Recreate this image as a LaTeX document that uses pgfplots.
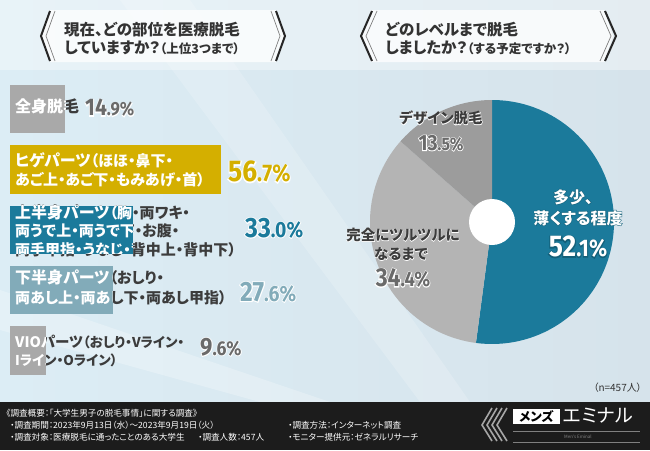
\documentclass[border=0pt]{standalone}
\usepackage{fontspec}
\usepackage{pgfplots}
\pgfplotsset{compat=1.18}
\setmainfont{Noto Sans CJK JP}[RawFeature={+palt}]
\newfontfamily\jph{Noto Sans CJK JP}[RawFeature={+palt}, BoldFeatures={FakeBold=5}]
\newfontfamily\numf{Fira Sans}[FakeStretch=0.88]
\newfontfamily\numh{Fira Sans}[FakeStretch=0.88, BoldFeatures={FakeBold=7}]
\definecolor{bgA}{HTML}{DCEDF5}
\definecolor{bgB}{HTML}{D6E3EB}
\definecolor{barg}{HTML}{A9A9A9}
\definecolor{gold}{HTML}{D4AF00}
\definecolor{tealA}{HTML}{1B7A9B}
\definecolor{tealB}{HTML}{82ABB9}
\definecolor{pieA}{HTML}{B4B4B4}
\definecolor{pieB}{HTML}{9C9C9C}
\definecolor{txt}{HTML}{333333}
\definecolor{dtxt}{HTML}{3C3C3C}
\definecolor{grayn}{HTML}{6A6A6A}
\definecolor{foot}{HTML}{1C1C1C}
\definecolor{tealD}{HTML}{135F78}
\newcommand\dk[1]{\textcolor{dtxt}{#1}}
\newcommand\wt[1]{\textcolor{white}{#1}}
\newcommand\mz{\fontsize{16}{16}\selectfont\bfseries}
\newcommand\pz{\fontsize{15}{15}\selectfont\bfseries}
\newcommand\vm{\fontsize{14.5}{14.5}\selectfont\bfseries}
\newcommand\vz{\fontsize{13.5}{13.5}\selectfont\bfseries}
\newcommand\LabA[1]{\node[lab] at (15,106) {#1{\mz 全身脱毛}};}
\newcommand\LabB[1]{\node[lab] at (15,160) {#1{{\mz ヒゲパーツ}{\pz（ほほ・鼻下・}}};
  \node[lab] at (15,180) {#1{\pz あご上・あご下・もみあげ・首）}};}
\newcommand\LabC[1]{\node[lab] at (15,212) {#1{{\mz 上半身パーツ}{\pz（胸・両ワキ・}}};
  \node[lab] at (15,231) {#1{\pz 両うで上・両うで下・お腹・}};
  \node[lab] at (15,250) {#1{\pz 両手甲指・うなじ・背中上・背中下）}};}
\newcommand\LabD[1]{\node[lab] at (15,277) {#1{{\mz 下半身パーツ}{\pz（おしり・}}};
  \node[lab] at (15,298) {#1{\pz 両あし上・両あし下・両あし甲指）}};}
\newcommand\LabE[1]{\node[lab] at (15,342) {#1{{\vm VIOパーツ}{\vz（おしり・Vライン・}}};
  \node[lab] at (15,360) {#1{\vz Iライン・Oライン）}};}
% number with halo: int, dec, size1, size2, halo colour, text colour
\newcommand\hpct[6]{\makebox[0pt][l]{\textcolor{#5}{\numh\bfseries{\fontsize{#3}{#3}\selectfont #1}{\fontsize{#4}{#4}\selectfont #2}}}%
  \textcolor{#6}{\numf\bfseries{\fontsize{#3}{#3}\selectfont #1}{\fontsize{#4}{#4}\selectfont #2}}}
% Japanese text with halo: halo colour, text colour, text
\newcommand\hjp[3]{\makebox[0pt][l]{\textcolor{#1}{\jph\bfseries #3}}\textcolor{#2}{#3}}
\begin{document}
\begin{tikzpicture}[x=1pt,y=-1pt,
  lab/.style={anchor=west,inner sep=0pt},
  pc/.style={anchor=west,inner sep=0pt},
  pl/.style={inner sep=0pt,font=\fontsize{14.5}{14.5}\selectfont\bfseries}]
\useasboundingbox (0,0) rectangle (650,450);
% background
\shade[left color=bgA, right color=bgB] (0,0) rectangle (650,402);
\fill[white,opacity=0.25] (0,330) -- (260,402) -- (330,402) -- (0,290) -- cycle;
\fill[white,opacity=0.18] (120,0) -- (420,402) -- (470,402) -- (190,0) -- cycle;
\fill[white,opacity=0.35] (0,0) rectangle (650,70);
\fill[foot] (0,402) rectangle (650,450);
% title banners
\fill[white,opacity=0.75] (50,10) -- (276,10) -- (284,36) -- (276,62) -- (50,62) -- (42,36) -- cycle;
\fill[white,opacity=0.75] (371,10) -- (604,10) -- (613,36) -- (604,62) -- (371,62) -- (362,36) -- cycle;
\foreach \a/\b in {50/41, 372/361}{
  \draw[line width=2pt, black!85] (\a,11) -- (\b,36) -- (\a,61);
  \draw[line width=0.7pt, black!50] (\a+5,11) -- (\b+5,36) -- (\a+5,61);}
\foreach \a/\b in {276/285, 605/616}{
  \draw[line width=2pt, black!85] (\a,11) -- (\b,36) -- (\a,61);
  \draw[line width=0.7pt, black!50] (\a-5,11) -- (\b-5,36) -- (\a-5,61);}
\node[lab,text=txt,font=\fontsize{15.5}{15.5}\selectfont\bfseries] at (64,30) {現在、どの部位を医療脱毛};
\node[lab,text=txt,font=\fontsize{15.5}{15.5}\selectfont\bfseries] at (64,48) {していますか？{\fontsize{12.5}{12.5}\selectfont（上位3つまで）}};
\node[lab,text=txt,font=\fontsize{15.5}{15.5}\selectfont\bfseries] at (385,30) {どのレベルまで脱毛};
\node[lab,text=txt,font=\fontsize{15.5}{15.5}\selectfont\bfseries] at (385,48) {しましたか？{\fontsize{12.5}{12.5}\selectfont（する予定ですか？）}};
% bar chart
\begin{axis}[at={(10pt,-78.8pt)}, anchor=north west, x=3.72pt, y=60.4pt,
  xmin=0, xmax=100, ymin=-0.5, ymax=4.5, y dir=reverse, hide axis, clip=false]
\addplot[xbar, bar width=0.8, fill=barg, draw=none] coordinates {(14.9,0)};
\addplot[xbar, bar width=0.8, fill=gold, draw=none] coordinates {(56.7,1)};
\addplot[xbar, bar width=0.8, fill=tealA, draw=none] coordinates {(33.0,2)};
\addplot[xbar, bar width=0.8, fill=tealB, draw=none] coordinates {(27.6,3)};
\addplot[xbar, bar width=0.8, fill=barg, draw=none] coordinates {(9.6,4)};
\coordinate (a1) at (axis cs:0,-0.4); \coordinate (a2) at (axis cs:14.9,0.4);
\coordinate (b1) at (axis cs:0,0.6); \coordinate (b2) at (axis cs:56.7,1.4);
\coordinate (c1) at (axis cs:0,1.6); \coordinate (c2) at (axis cs:33.0,2.4);
\coordinate (d1) at (axis cs:0,2.6); \coordinate (d2) at (axis cs:27.6,3.4);
\coordinate (e1) at (axis cs:0,3.6); \coordinate (e2) at (axis cs:9.6,4.4);
\end{axis}
\LabA{\dk}\LabB{\dk}\LabC{\dk}\LabD{\dk}\LabE{\dk}
\begin{scope}\clip (a1) rectangle (a2); \fill[barg] (a1) rectangle (a2); \LabA{\wt}\end{scope}
\begin{scope}\clip (b1) rectangle (b2); \fill[gold] (b1) rectangle (b2); \LabB{\wt}\end{scope}
\begin{scope}\clip (c1) rectangle (c2); \fill[tealA] (c1) rectangle (c2); \LabC{\wt}\end{scope}
\begin{scope}\clip (d1) rectangle (d2); \fill[tealB] (d1) rectangle (d2); \LabD{\wt}\end{scope}
\begin{scope}\clip (e1) rectangle (e2); \fill[barg] (e1) rectangle (e2); \LabE{\wt}\end{scope}
\node[pc] at (85,108) {\hpct{14}{.9\%}{24}{19}{white}{grayn}};
\node[pc] at (228,172) {\hpct{56}{.7\%}{30}{24}{white}{gold}};
\node[pc] at (245,228) {\hpct{33}{.0\%}{28}{22}{white}{tealA}};
\node[pc] at (240,292) {\hpct{27}{.6\%}{28}{22}{white}{tealB}};
\node[pc] at (200,347) {\hpct{9}{.6\%}{25}{20}{white}{grayn}};
% pie chart
\pgfmathsetmacro\angA{90-3.6*52.1}
\pgfmathsetmacro\angB{\angA-3.6*34.4}
\pgfmathsetmacro\angC{\angB-3.6*13.5}
\begin{axis}[at={(492pt,-222pt)}, anchor=center, x=1pt, y=1pt,
  xmin=-130, xmax=130, ymin=-130, ymax=130, hide axis, clip=false]
\fill[tealA] (axis cs:0,0) -- ++(90:122pt) arc[start angle=90, end angle=\angA, radius=122pt] -- cycle;
\fill[pieA] (axis cs:0,0) -- ++(\angA:122pt) arc[start angle=\angA, end angle=\angB, radius=122pt] -- cycle;
\fill[pieB] (axis cs:0,0) -- ++(\angB:122pt) arc[start angle=\angB, end angle=\angC, radius=122pt] -- cycle;
\fill[white] (axis cs:0,0) circle[radius=23pt];
\end{axis}
\node[pl] at (441,118) {\hjp{white}{dtxt}{デザイン脱毛}};
\node[pc,anchor=center] at (441,143) {\hpct{13}{.5\%}{22}{18}{white}{grayn}};
\node[pl] at (403,235) {\hjp{white}{dtxt}{完全にツルツルに}};
\node[pl] at (401,254) {\hjp{white}{dtxt}{なるまで}};
\node[pc,anchor=center] at (403,278) {\hpct{34}{.4\%}{26}{21}{white}{grayn}};
\node[pl,font=\fontsize{16}{16}\selectfont\bfseries] at (573,197) {\hjp{tealD}{white}{多少、}};
\node[pl,font=\fontsize{16}{16}\selectfont\bfseries] at (578,218) {\hjp{tealD}{white}{薄くする程度}};
\node[pc,anchor=center] at (578,247) {\hpct{52}{.1\%}{30}{24}{tealD}{white}};
\node[anchor=east,inner sep=0pt,text=txt,font=\fontsize{10}{10}\selectfont] at (642,388) {（n=457人）};
% footer
\begin{scope}[every node/.style={anchor=west,inner sep=0pt,text=white,font=\fontsize{8.6}{8.6}\selectfont}]
\node at (6,413) {《調査概要：「大学生男子の脱毛事情」に関する調査》};
\node at (10,425) {・調査期間：2023年9月13日（水）～2023年9月19日（火）};
\node at (10,437) {・調査対象：医療脱毛に通ったことのある大学生};
\node at (198,437) {・調査人数：457人};
\node at (288,425) {・調査方法：インターネット調査};
\node at (288,437) {・モニター提供元：ゼネラルリサーチ};
\end{scope}
% logo
\foreach \i in {0,1,2,3}{
  \draw[line width=1.6pt, black!35!white] (492+5*\i,408) -- (482+5*\i,425) -- (492+5*\i,441);}
\fill[white] (513,409) rectangle (560,424);
\node[inner sep=0pt,text=black,font=\fontsize{12.5}{12.5}\selectfont\bfseries] at (536.5,416.5) {メンズ};
\node[anchor=west,inner sep=0pt,text=white,font=\fontsize{19}{19}\selectfont] at (563,416) {エミナル};
\draw[gray,line width=0.6pt] (513,431) -- (640,431);
\draw[gray,line width=0.6pt] (513,442) -- (640,442);
\node[inner sep=0pt,text=gray,font=\fontsize{4.5}{4.5}\selectfont] at (578,436.5) {Men's Eminal};
\end{tikzpicture}
\end{document}
